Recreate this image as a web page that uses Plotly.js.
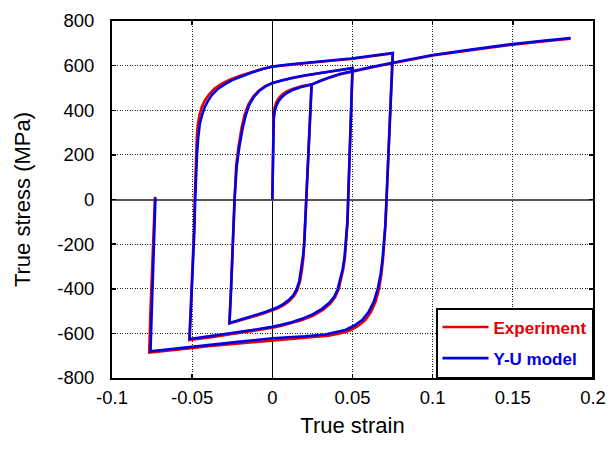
<!DOCTYPE html>
<html>
<head>
<meta charset="utf-8">
<script src="https://cdn.plot.ly/plotly-3.0.1.min.js"></script>
<style>html,body{margin:0;padding:0;background:#fff;}#chart{width:612px;height:450px;}</style>
</head>
<body>
<div id="chart"></div>
<script>
// ---- Data ----
// Y-U model: monotonic tension branch, then the cyclic loops (null = break)
var modelStrain = [
  0, 0.0002, 0.0005, 0.0009, 0.0015, 0.0025, 0.004, 0.006, 0.009, 0.013, 0.018, 0.0245,
  0.03, 0.035, 0.042, 0.05, 0.0625, 0.075, 0.0875, 0.1, 0.125, 0.15, 0.17, 0.186,
  null,
  0.0245, 0.0205, 0.0199, 0.0192, 0.0182, 0.0168, 0.015, 0.013, 0.010, 0.0064, 0.003, 0, -0.006, -0.0124, -0.019, -0.0267,
  -0.0257, -0.0246, -0.0236, -0.0222, -0.0205, -0.0185, -0.0165, -0.0143, -0.0115, -0.008, -0.004, 0, 0.006, 0.0126, 0.02, 0.0292, 0.04, 0.05,
  0.0468, 0.0459, 0.0450, 0.0438, 0.0424, 0.0407, 0.0385, 0.0355, 0.031, 0.0251, 0.018, 0.0106, 0.005, 0, -0.0125, -0.025, -0.038, -0.0516,
  -0.0505, -0.0495, -0.0487, -0.0481, -0.0476, -0.047, -0.0462, -0.0452, -0.044, -0.0424, -0.0403, -0.0375, -0.034, -0.030, -0.025, -0.019, -0.0124, -0.006, 0, 0.01, 0.0205, 0.035, 0.0491, 0.062, 0.0752,
  0.0705, 0.0696, 0.0687, 0.0675, 0.0658, 0.0634, 0.060, 0.056, 0.051, 0.0455, 0.039, 0.033, 0.0205, 0.0106, 0, -0.02, -0.04, -0.058, -0.076,
  -0.0752, -0.0745, -0.0738, -0.0733, -0.0729
];
var modelStress = [
  0, 150, 280, 360, 395, 420, 442, 460, 477, 492, 504, 515,
  532, 546, 562, 576, 595, 613, 631, 648, 673, 697, 712, 724,
  null,
  515, -120, -200, -250, -310, -366, -405, -430, -452, -471, -484, -493, -508, -522, -537, -553,
  -400, -200, 0, 150, 240, 320, 380, 425, 460, 488, 508, 522, 535, 546, 556, 567, 578, 589,
  -100, -202, -260, -314, -362, -404, -437, -463, -490, -515, -536, -553, -562, -570, -585, -598, -612, -625,
  -450, -300, -150, 0, 100, 200, 280, 340, 375, 410, 440, 470, 495, 515, 535, 553, 570, 585, 596, 605, 612, 622, 632, 644, 657,
  -112, -202, -270, -336, -400, -456, -505, -540, -566, -585, -597, -605, -613, -617, -622, -637, -652, -666, -680,
  -500, -330, -180, -60, 8
];
// Experiment
var expStrain = [
  0, 0.0002, 0.0004, 0.0008, 0.0014, 0.0024, 0.004, 0.006, 0.009, 0.013, 0.018, 0.0245,
  0.03, 0.035, 0.042, 0.05, 0.0625, 0.075, 0.0875, 0.1, 0.125, 0.15, 0.17, 0.186,
  null,
  0.0245, 0.0206, 0.0201, 0.0195, 0.0186, 0.0173, 0.0155, 0.0134, 0.0104, 0.0068, 0.0033, 0, -0.006, -0.0124, -0.019, -0.0268,
  -0.0258, -0.0247, -0.0238, -0.0226, -0.021, -0.0192, -0.0173, -0.015, -0.012, -0.0085, -0.0045, 0, 0.006, 0.0126, 0.02, 0.0292, 0.04, 0.05,
  0.0469, 0.0461, 0.0453, 0.0442, 0.0429, 0.0413, 0.0392, 0.0363, 0.0318, 0.0258, 0.0186, 0.011, 0.005, 0, -0.0125, -0.025, -0.038, -0.0518,
  -0.0507, -0.0497, -0.0489, -0.0484, -0.048, -0.0476, -0.0471, -0.0464, -0.0454, -0.044, -0.042, -0.0393, -0.036, -0.0318, -0.0265, -0.0205, -0.013, -0.0065, 0, 0.01, 0.0205, 0.035, 0.0491, 0.062, 0.075,
  0.0706, 0.0698, 0.069, 0.068, 0.0666, 0.0645, 0.0615, 0.058, 0.0533, 0.048, 0.042, 0.035, 0.0205, 0.0106, 0, -0.02, -0.04, -0.058, -0.0768,
  -0.076, -0.0752, -0.0744, -0.0737, -0.0732
];
var expStress = [
  0, 170, 300, 375, 410, 435, 455, 470, 485, 497, 507, 516,
  531, 545, 560, 574, 593, 611, 628, 645, 670, 694, 709, 721,
  null,
  516, -120, -200, -250, -310, -366, -408, -433, -456, -475, -488, -497, -512, -526, -541, -556,
  -400, -200, 0, 150, 240, 320, 380, 425, 460, 488, 508, 521, 534, 545, 555, 566, 577, 588,
  -100, -202, -260, -314, -362, -404, -437, -466, -494, -519, -540, -557, -567, -575, -590, -603, -617, -630,
  -450, -300, -150, 0, 100, 200, 280, 340, 380, 415, 445, 472, 497, 518, 537, 554, 571, 585, 595, 604, 611, 621, 630, 642, 655,
  -112, -202, -270, -336, -400, -456, -505, -540, -568, -588, -601, -610, -619, -624, -630, -644, -658, -672, -686,
  -500, -330, -180, -60, 12
];
var seriesNames = ['Experiment', 'Y-U model'];
var seriesColors = ['#e80000', '#0000e6'];

var xTickVals = [-0.1, -0.05, 0, 0.05, 0.1, 0.15, 0.2];
var xTickText = ['-0.1', '-0.05', '0', '0.05', '0.1', '0.15', '0.2'];
var yTickVals = [-800, -600, -400, -200, 0, 200, 400, 600, 800];
var yTickText = ['-800', '-600', '-400', '-200', '0', '200', '400', '600', '800'];

// ---- Chart ----
var FONT = '"Liberation Sans", Arial, Helvetica, sans-serif';
var traces = [
  {x: expStrain, y: expStress, name: '<b><span style="color:' + seriesColors[0] + '">' + seriesNames[0] + '</span></b>',
   type: 'scatter', mode: 'lines', connectgaps: false, legendgroup: 'a',
   line: {color: seriesColors[0], width: 2.6, shape: 'linear'}},
  {x: modelStrain, y: modelStress, name: '<b><span style="color:' + seriesColors[1] + '">' + seriesNames[1] + '</span></b>',
   type: 'scatter', mode: 'lines', connectgaps: false, legendgroup: 'b',
   line: {color: seriesColors[1], width: 2.6, shape: 'linear'}}
];

var axisCommon = {
  showline: true, linecolor: '#000', linewidth: 2, mirror: 'ticks',
  ticks: 'inside', ticklen: 4, tickwidth: 1.5, tickcolor: '#000',
  showgrid: true, gridcolor: '#222', gridwidth: 1, griddash: '1px,1.5px',
  tickfont: {family: FONT, size: 18.5, color: '#000'},
  zeroline: true
};

var layout = {
  width: 612, height: 450,
  margin: {l: 112, r: 19, t: 21, b: 72, pad: 0},
  paper_bgcolor: '#fff', plot_bgcolor: '#fff',
  font: {family: FONT, color: '#000'},
  showlegend: true,
  xaxis: Object.assign({}, axisCommon, {
    range: [-0.1, 0.2], tickmode: 'array', tickvals: xTickVals, ticktext: xTickText,
    zerolinecolor: '#000', zerolinewidth: 1, ticklabelstandoff: 2,
    title: {text: 'True strain', font: {family: FONT, size: 22, color: '#000'}, standoff: 10}
  }),
  yaxis: Object.assign({}, axisCommon, {
    range: [-800, 800], tickmode: 'array', tickvals: yTickVals, ticktext: yTickText,
    zerolinecolor: '#555', zerolinewidth: 2, ticklabelstandoff: 12,
    title: {text: 'True stress (MPa)', font: {family: FONT, size: 22, color: '#000'}, standoff: 21}
  }),
  legend: {
    x: 1, xanchor: 'right', y: 0, yanchor: 'bottom',
    bgcolor: '#fff', bordercolor: '#000', borderwidth: 1.5,
    font: {family: FONT, size: 17},
    traceorder: 'grouped', tracegroupgap: 6, itemwidth: 46
  }
};

Plotly.newPlot('chart', traces, layout, {displayModeBar: false, staticPlot: true});
</script>
</body>
</html>
